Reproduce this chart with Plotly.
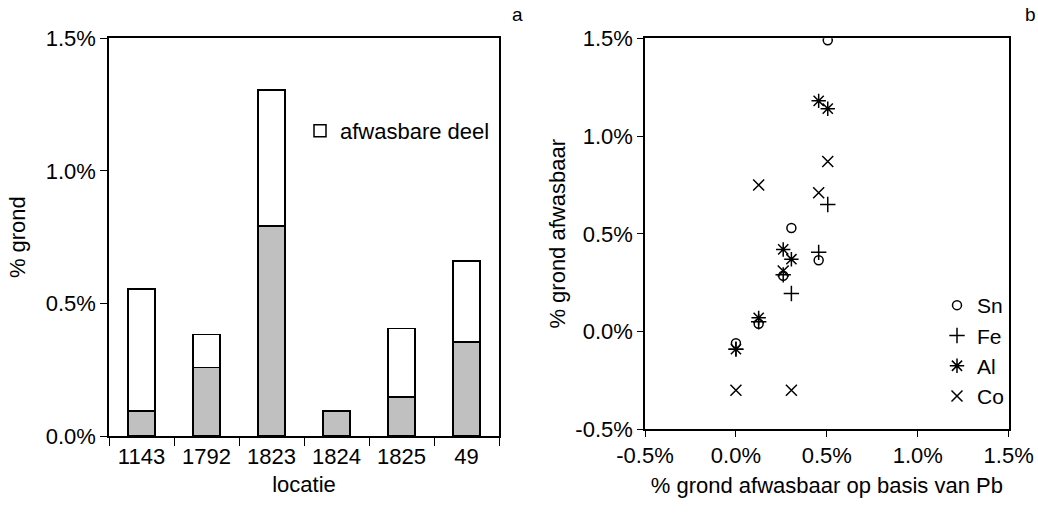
import plotly.graph_objects as go

# ---- data: panel a ----
locaties = ["1143", "1792", "1823", "1824", "1825", "49"]
niet_afwasbaar = [0.095, 0.258, 0.793, 0.095, 0.147, 0.354]
afwasbaar = [0.460, 0.124, 0.512, 0.0, 0.258, 0.306]
ticks_a = [0.0, 0.5, 1.0, 1.5]
ticklabels_a = ["0.0%", "0.5%", "1.0%", "1.5%"]

# ---- data: panel b ----
pb_afwasbaar = [0.0, 0.125, 0.26, 0.305, 0.455, 0.505]
sn = [-0.06, 0.04, 0.285, 0.53, 0.365, 1.49]
fe = [-0.09, 0.05, 0.29, 0.195, 0.405, 0.65]
al = [-0.09, 0.07, 0.42, 0.37, 1.18, 1.14]
co = [-0.30, 0.75, 0.31, -0.30, 0.71, 0.87]
ticks_b = [-0.5, 0.0, 0.5, 1.0, 1.5]
ticklabels_b = ["-0.5%", "0.0%", "0.5%", "1.0%", "1.5%"]

FONT = "Liberation Sans, Arial, sans-serif"
W, H = 1038, 514
FS = 22

fig = go.Figure()

fig.add_trace(go.Bar(
    x=locaties, y=niet_afwasbaar, name="niet afwasbaar",
    marker=dict(color="#c0c0c0", line=dict(color="black", width=1.5)),
    width=0.42, showlegend=False, xaxis="x", yaxis="y"))
fig.add_trace(go.Bar(
    x=locaties, y=afwasbaar, name="afwasbare deel",
    marker=dict(color="white", line=dict(color="black", width=1.5)),
    width=0.42, legend="legend", xaxis="x", yaxis="y"))

series = [("Sn", sn, "circle-open", 9),
          ("Fe", fe, "cross-thin-open", 11),
          ("Al", al, "asterisk-open", 12),
          ("Co", co, "x-thin-open", 11)]
for name, vals, sym, size in series:
    fig.add_trace(go.Scatter(
        x=pb_afwasbaar, y=vals, mode="markers", name=name,
        marker=dict(symbol=sym, size=size, color="black",
                    line=dict(color="black", width=1.5)),
        legend="legend2", xaxis="x2", yaxis="y2"))

def px_x(p):
    return p / W

def px_y(p):
    return (H - p) / H

axis_common = dict(showline=True, linecolor="black", linewidth=1.5, mirror=True,
                   ticks="outside", tickcolor="black", tickwidth=1,
                   showgrid=False, zeroline=False, automargin=False,
                   tickfont=dict(family=FONT, size=FS, color="black"))

fig.update_layout(
    width=W, height=H,
    margin=dict(l=0, r=0, t=0, b=0, autoexpand=False),
    paper_bgcolor="white", plot_bgcolor="white",
    barmode="stack", bargap=0.58,
    font=dict(family=FONT, size=FS, color="black"),
    xaxis=dict(domain=[px_x(109), px_x(499)], anchor="y",
               tickson="boundaries", ticklen=8,
               title=dict(text="locatie", font=dict(family=FONT, size=FS), standoff=8),
               **axis_common),
    yaxis=dict(domain=[px_y(436), px_y(38.3)], anchor="x",
               range=[0, 1.5], tickvals=ticks_a, ticktext=ticklabels_a, ticklen=7,
               title=dict(text="% grond", font=dict(family=FONT, size=FS), standoff=14),
               **axis_common),
    xaxis2=dict(domain=[px_x(645), px_x(1008.7)], anchor="y2",
                range=[-0.5, 1.5], tickvals=ticks_b, ticktext=ticklabels_b, ticklen=6,
                title=dict(text="% grond afwasbaar op basis van Pb",
                           font=dict(family=FONT, size=FS), standoff=10),
                **axis_common),
    yaxis2=dict(domain=[px_y(429.3), px_y(38.3)], anchor="x2",
                range=[-0.5, 1.5], tickvals=ticks_b, ticktext=ticklabels_b, ticklen=6,
                title=dict(text="% grond afwasbaar", font=dict(family=FONT, size=FS), standoff=4),
                **axis_common),
    legend=dict(x=px_x(300), y=px_y(110), xanchor="left", yanchor="top",
                bgcolor="rgba(0,0,0,0)", font=dict(family=FONT, size=FS),
                itemwidth=30),
    legend2=dict(x=px_x(1009), y=px_y(285), xanchor="right", yanchor="top",
                 bgcolor="rgba(0,0,0,0)", font=dict(family=FONT, size=21),
                 itemwidth=30, tracegroupgap=0),
    annotations=[
        dict(text="a", x=px_x(517), y=px_y(27), xref="paper", yref="paper",
             xanchor="center", yanchor="bottom", showarrow=False,
             font=dict(family=FONT, size=19)),
        dict(text="b", x=px_x(1030), y=px_y(27), xref="paper", yref="paper",
             xanchor="center", yanchor="bottom", showarrow=False,
             font=dict(family=FONT, size=19)),
    ],
)

fig.write_html("out.html")
